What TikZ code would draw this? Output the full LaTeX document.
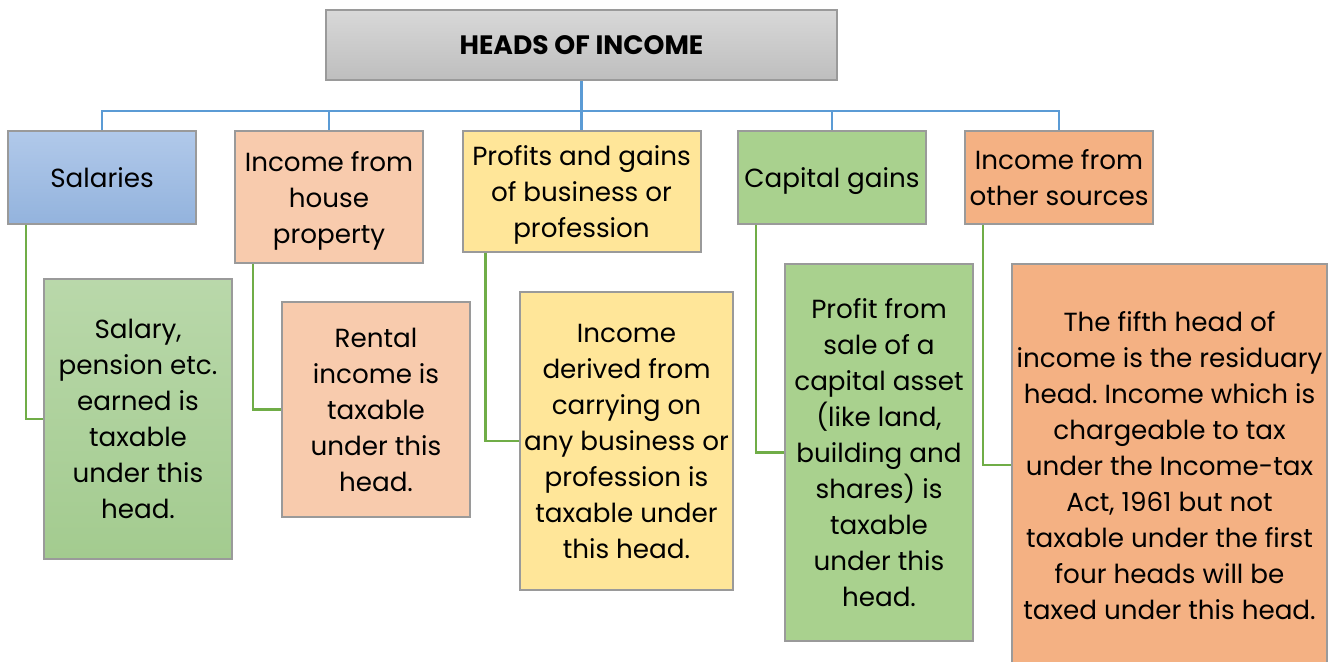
\documentclass[tikz,border=0pt]{standalone}
\usepackage{fontspec}
\setmainfont{Poppins}
\frenchspacing
\definecolor{bordergray}{HTML}{9A9A9A}
\definecolor{bluel}{HTML}{5B9BD5}
\definecolor{greenl}{HTML}{70AD47}
\definecolor{peach}{HTML}{F8CBAD}
\definecolor{yellowf}{HTML}{FFE699}
\definecolor{greenf}{HTML}{A9D18E}
\definecolor{orangef}{HTML}{F4B183}
\definecolor{greytop}{HTML}{D8D8D8}
\definecolor{greybot}{HTML}{BEBEBE}
\definecolor{bluetop}{HTML}{B1C9EA}
\definecolor{bluebot}{HTML}{93B3DD}
\definecolor{greentop}{HTML}{B9D8AA}
\definecolor{greenbot}{HTML}{A3CB8F}
\tikzset{
  box/.style={draw=bordergray, line width=1pt, inner sep=0pt, align=center,
    text depth=0pt, font=\fontsize{13.1}{18}\selectfont},
  bus/.style={draw=bluel, line width=1.2pt},
  leg/.style={draw=greenl, line width=1.2pt},
}
\begin{document}
\begin{tikzpicture}[x=0.5pt,y=-0.5pt]
\clip (0,0) rectangle (1333,662);
\fill[white] (0,0) rectangle (1333,662);
% top
\node[box, top color=greytop, bottom color=greybot, minimum width=255.5pt, minimum height=35pt, font=\fontsize{13.3}{18}\selectfont\bfseries] (top) at (581.5,45) {HEADS OF INCOME};
% level 1
\node[box, top color=bluetop, bottom color=bluebot, minimum width=94pt, minimum height=46.5pt] (sal) at (102,177.5) {Salaries};
\node[box, fill=peach, minimum width=94pt, minimum height=66pt] (hp) at (329,197) {Income from\\house\\property};
\node[box, fill=yellowf, minimum width=119pt, minimum height=60.5pt] (pg) at (581.5,191.5) {Profits and gains\\of business or\\profession};
\node[box, fill=greenf, minimum width=94pt, minimum height=46.5pt] (cg) at (832,177.5) {Capital gains};
\node[box, fill=orangef, minimum width=94pt, minimum height=46.5pt] (os) at (1059,177.5) {Income from\\other sources};
% level 2
\node[box, top color=greentop, bottom color=greenbot, minimum width=94pt, minimum height=140pt] (d1) at (138,419) {Salary,\\pension etc.\\earned is\\taxable\\under this\\head.};
\node[box, fill=peach, minimum width=94pt, minimum height=107.5pt] (d2) at (376,409.5) {Rental\\income is\\taxable\\under this\\head.};
\node[box, fill=yellowf, minimum width=106.5pt, minimum height=149pt] (d3) at (626.5,441) {Income\\derived from\\carrying on\\any business or\\profession is\\taxable under\\this head.};
\node[box, fill=greenf, minimum width=94pt, minimum height=188.5pt] (d4) at (879,452.5) {Profit from\\sale of a\\capital asset\\(like land,\\building and\\shares) is\\taxable\\under this\\head.};
\node[box, fill=orangef, minimum width=157.5pt, minimum height=201pt] (d5) at (1169.5,465) {The fifth head of\\income is the residuary\\head. Income which is\\chargeable to tax\\under the Income-tax\\Act, 1961 but not\\taxable under the first\\four heads will be\\taxed under this head.};
% blue connectors
\coordinate (bushub) at (581.5,111);
\draw[bus] (top.south) -- (pg.north);
\draw[bus] (sal.north) |- (bushub) -| (os.north);
\draw[bus] (bushub) -| (hp.north);
\draw[bus] (bushub) -| (cg.north);
% green connectors
\draw[leg] ([xshift=9.5pt]sal.south west) |- (d1.west);
\draw[leg] ([xshift=9.5pt]hp.south west) |- (d2.west);
\draw[leg] ([xshift=12pt]pg.south west) |- (d3.west);
\draw[leg] ([xshift=9.5pt]cg.south west) |- (d4.west);
\draw[leg] ([xshift=9.5pt]os.south west) |- (d5.west);
\end{tikzpicture}
\end{document}
